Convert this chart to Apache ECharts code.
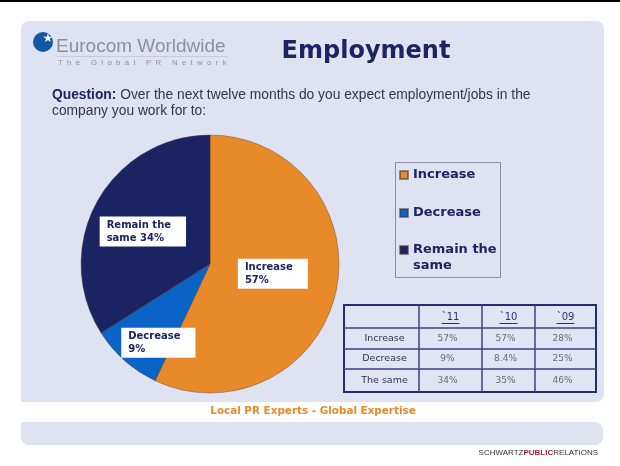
<!DOCTYPE html>
<html><head><meta charset="utf-8">
<script src="https://cdn.jsdelivr.net/npm/echarts@6/dist/echarts.min.js"></script>
<style>html,body{margin:0;padding:0;background:#fff}#c{width:620px;height:466px}</style>
</head><body><div id="c"></div>
<script>
// ---- data ----
const categories = ['Increase', 'Decrease', 'Remain the same'];
const values2011 = [57, 9, 34];
const colors = ['#E8892A', '#0A64C8', '#1B2463'];
const tableYears = ['`11', '`10', '`09'];
const tableRows = ['Increase', 'Decrease', 'The same'];
const values2010 = [57, 8.4, 35];
const values2009 = [28, 25, 46];
const tableCols = [values2011, values2010, values2009];

const NAVY = '#1c2461';
const chart = echarts.init(document.getElementById('c'), null, {renderer: 'canvas'});

// table layout
const colX = [344, 419, 482, 535, 596];
const rowY = [305, 328, 349, 369, 392];
const tableEls = [];
tableEls.push({type: 'rect', shape: {x: colX[0], y: rowY[0], width: colX[4] - colX[0], height: rowY[4] - rowY[0]},
  style: {fill: '#e1e4f2', stroke: '#262c6c', lineWidth: 2}, z: 1});
for (let i = 1; i < colX.length - 1; i++) {
  tableEls.push({type: 'line', shape: {x1: colX[i], y1: rowY[0], x2: colX[i], y2: rowY[4]}, style: {stroke: '#3b4384', lineWidth: 1.5}, z: 2});
}
for (let j = 1; j < rowY.length - 1; j++) {
  tableEls.push({type: 'line', shape: {x1: colX[0], y1: rowY[j], x2: colX[4], y2: rowY[j]}, style: {stroke: '#3b4384', lineWidth: 1.5}, z: 2});
}
tableYears.forEach((y, i) => {
  const cx = (colX[i + 1] + colX[i + 2]) / 2;
  const cy = (rowY[0] + rowY[1]) / 2 + 1;
  tableEls.push({type: 'text', x: cx, y: cy, z: 3,
    style: {text: y, fontSize: 10, fontFamily: 'DejaVu Sans', fill: '#2a3170', align: 'center', verticalAlign: 'middle'}});
  tableEls.push({type: 'line', shape: {x1: cx - 9, y1: cy + 6, x2: cx + 9, y2: cy + 6}, style: {stroke: '#2a3170', lineWidth: 1}, z: 3});
});
tableRows.forEach((r, j) => {
  const cy = (rowY[j + 1] + rowY[j + 2]) / 2;
  tableEls.push({type: 'text', x: (colX[0] + colX[1]) / 2 + 3, y: cy, z: 3,
    style: {text: r, fontSize: 9.5, fontFamily: 'DejaVu Sans', fill: '#33334a', align: 'center', verticalAlign: 'middle'}});
  tableCols.forEach((col, i) => {
    tableEls.push({type: 'text', x: (colX[i + 1] + colX[i + 2]) / 2 - 3, y: cy, z: 3,
      style: {text: col[j] + '%', fontSize: 9, fontFamily: 'DejaVu Sans', fill: '#6a6a78', align: 'center', verticalAlign: 'middle'}});
  });
});

const legendText = {fontSize: 13, fontWeight: 'bold', fontFamily: 'DejaVu Sans', color: NAVY, lineHeight: 16};
const legendBase = {orient: 'vertical', left: 399, padding: 0, itemWidth: 8, itemHeight: 8, icon: 'rect',
  formatter: n => n === 'Remain the same' ? '\nRemain the\nsame' : n};
const legendTops = [167, 205, 226];

const option = {
  animation: false,
  color: colors,
  graphic: [
    {type: 'rect', shape: {x: 0, y: 0, width: 620, height: 2}, style: {fill: '#000'}, z: -10},
    {type: 'rect', shape: {x: 21, y: 21, width: 583, height: 381, r: [8, 8, 8, 0]}, style: {fill: '#dfe2f1'}, z: -10},
    {type: 'rect', shape: {x: 21, y: 422, width: 582, height: 23, r: [0, 8, 8, 8]}, style: {fill: '#dfe2f1'}, z: -10},
    // logo
    {type: 'circle', shape: {cx: 43, cy: 42, r: 10}, style: {fill: '#1556a6'}, z: 1},
    {type: 'text', x: 48, y: 38.5, z: 2, style: {text: '★', fontSize: 12, fontFamily: 'DejaVu Sans', fill: '#fff', align: 'center', verticalAlign: 'middle'}},
    {type: 'text', x: 56, y: 47, z: 1, style: {text: 'Eurocom Worldwide', fontSize: 19, fontFamily: 'Liberation Sans', fill: '#8f909c', verticalAlign: 'middle'}},
    {type: 'line', shape: {x1: 57, y1: 56.5, x2: 228, y2: 56.5}, style: {stroke: '#c9cbd8', lineWidth: 1}, z: 1},
    {type: 'text', x: 58, y: 63, z: 1, style: {text: 'T  h  e     G  l  o  b  a  l     P  R     N  e  t  w  o  r  k', fontSize: 7.8, fontFamily: 'Liberation Sans', fill: '#8f909c', verticalAlign: 'middle'}},
    // title
    {type: 'text', x: 366, y: 52, z: 1, style: {text: 'Employment', fontSize: 24, fontWeight: 'bold', fontFamily: 'DejaVu Sans', fill: NAVY, align: 'center', verticalAlign: 'middle'}},
    // question
    {type: 'text', x: 52, y: 87, z: 1, style: {
      text: '{q|Question:} Over the next twelve months do you expect employment/jobs in the\ncompany you work for to:',
      fontSize: 13.8, fontFamily: 'Liberation Sans', fill: '#35354a', lineHeight: 16, verticalAlign: 'top',
      rich: {q: {fontSize: 13.8, fontFamily: 'Liberation Sans', fontWeight: 'bold', fill: NAVY, lineHeight: 16}}}},
    // legend frame
    {type: 'rect', shape: {x: 395.5, y: 162.5, width: 105, height: 115}, style: {fill: 'none', stroke: '#8a8fa8', lineWidth: 1}, z: 1},
    // slogan
    {type: 'text', x: 313, y: 411, z: 1, style: {text: 'Local PR Experts - Global Expertise', fontSize: 10.4, fontWeight: 'bold', fontFamily: 'DejaVu Sans', fill: '#e8892a', align: 'center', verticalAlign: 'middle'}},
    {type: 'text', x: 598, y: 453, z: 1, style: {
      text: '{a|SCHWARTZ}{b|PUBLIC}{a|RELATIONS}', align: 'right', verticalAlign: 'middle',
      rich: {a: {fontSize: 8, fontFamily: 'Liberation Sans', fill: '#333'}, b: {fontSize: 8, fontFamily: 'Liberation Sans', fill: '#a3223d', fontWeight: 'bold'}}}}
  ].concat(tableEls),
  legend: categories.map((c, i) => Object.assign({}, legendBase, {
    top: legendTops[i], data: [c], textStyle: legendText
  })),
  series: [{
    type: 'pie', center: [210, 264], radius: 129, startAngle: 90, clockwise: true,
    data: categories.map((c, i) => ({name: c, value: values2011[i]})),
    itemStyle: {borderColor: 'rgba(70,55,45,0.55)', borderWidth: 0.7},
    emphasis: {disabled: true},
    labelLine: {show: false},
    label: {
      position: 'inside',
      formatter: p => {
        const lines = p.name === 'Remain the same' ? ['Remain the', 'same ' + p.value + '%'] : [p.name, p.value + '%'];
        return lines.map(l => '{a|' + l + '}').join('\n');
      },
      backgroundColor: '#fff', padding: [2, 15, 2, 7],
      rich: {a: {align: 'left', fontSize: 10, fontWeight: 'bold', fontFamily: 'DejaVu Sans', color: NAVY, lineHeight: 13}}
    },
    labelLayout: p => p.dataIndex === 1 ? {dx: -7, dy: 28} : (p.dataIndex === 2 ? {dx: -8, dy: 0} : {dx: -3, dy: -5})
  }]
};
chart.setOption(option);
</script></body></html>
